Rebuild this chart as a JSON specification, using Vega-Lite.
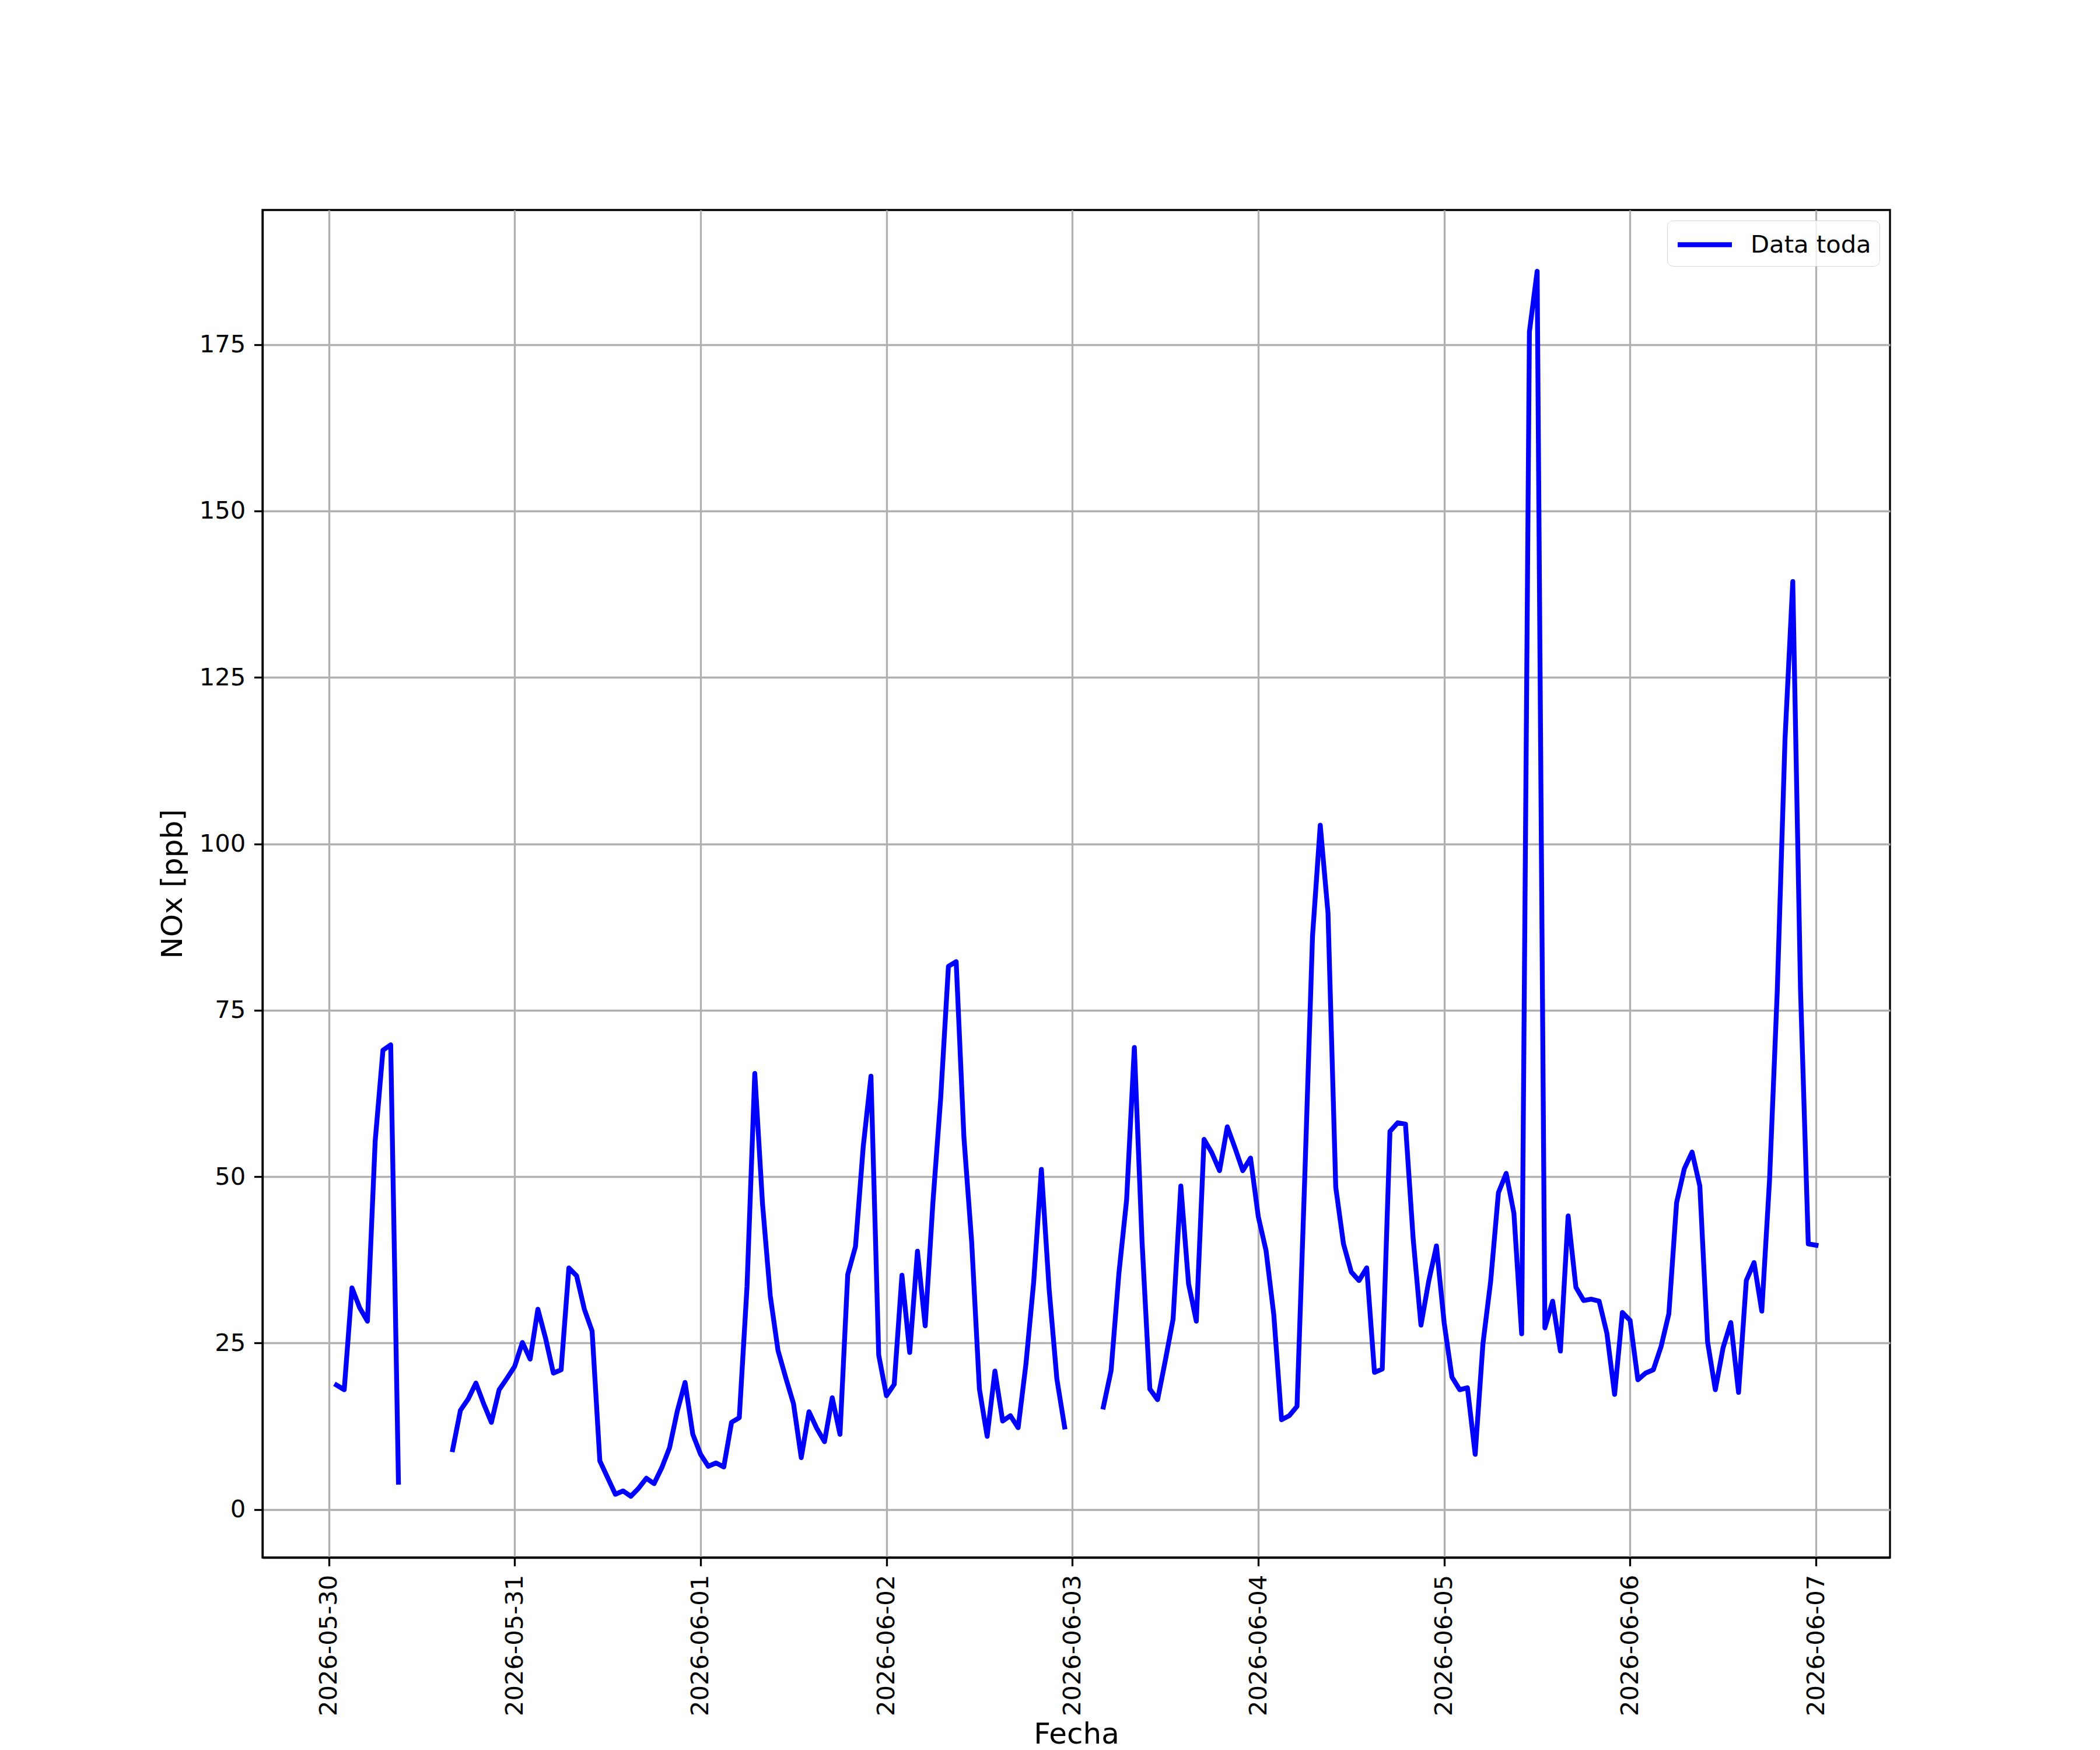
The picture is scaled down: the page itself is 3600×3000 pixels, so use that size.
{
  "$schema": "https://vega.github.io/schema/vega-lite/v6.json",
  "description": "NOx horario, Data toda",
  "autosize": {"type": "none"},
  "padding": {"left": 450, "top": 360, "right": 360, "bottom": 330},
  "width": 2790,
  "height": 2310,
  "background": "white",
  "config": {
    "font": "DejaVu Sans",
    "view": {"stroke": "black", "strokeWidth": 3.3},
    "axis": {
      "labelFont": "DejaVu Sans",
      "labelFontSize": 41.7,
      "labelColor": "black",
      "labelLimit": 0,
      "titleFont": "DejaVu Sans",
      "titleFontSize": 50,
      "titleFontWeight": "normal",
      "titleColor": "black",
      "domainColor": "black",
      "domainWidth": 3.3,
      "tickColor": "black",
      "tickWidth": 3.3,
      "tickSize": 14.6,
      "labelPadding": 14.6,
      "grid": true,
      "gridColor": "#b0b0b0",
      "gridWidth": 3.3
    },
    "legend": {
      "labelFont": "DejaVu Sans",
      "labelFontSize": 41.7,
      "labelColor": "black",
      "labelLimit": 0
    }
  },
  "data": {
    "values": [
      {"Fecha": "2026-05-30T01:00", "NOx": 18.7},
      {"Fecha": "2026-05-30T02:00", "NOx": 18.0},
      {"Fecha": "2026-05-30T03:00", "NOx": 33.3},
      {"Fecha": "2026-05-30T04:00", "NOx": 30.3},
      {"Fecha": "2026-05-30T05:00", "NOx": 28.3},
      {"Fecha": "2026-05-30T06:00", "NOx": 55.4},
      {"Fecha": "2026-05-30T07:00", "NOx": 69.0},
      {"Fecha": "2026-05-30T08:00", "NOx": 69.8},
      {"Fecha": "2026-05-30T09:00", "NOx": 4.1},
      {"Fecha": "2026-05-30T10:00", "NOx": null},
      {"Fecha": "2026-05-30T11:00", "NOx": null},
      {"Fecha": "2026-05-30T12:00", "NOx": null},
      {"Fecha": "2026-05-30T13:00", "NOx": null},
      {"Fecha": "2026-05-30T14:00", "NOx": null},
      {"Fecha": "2026-05-30T15:00", "NOx": null},
      {"Fecha": "2026-05-30T16:00", "NOx": 9.0},
      {"Fecha": "2026-05-30T17:00", "NOx": 14.9},
      {"Fecha": "2026-05-30T18:00", "NOx": 16.6},
      {"Fecha": "2026-05-30T19:00", "NOx": 19.0},
      {"Fecha": "2026-05-30T20:00", "NOx": 15.9},
      {"Fecha": "2026-05-30T21:00", "NOx": 13.1},
      {"Fecha": "2026-05-30T22:00", "NOx": 18.0},
      {"Fecha": "2026-05-30T23:00", "NOx": 19.7},
      {"Fecha": "2026-05-31T00:00", "NOx": 21.5},
      {"Fecha": "2026-05-31T01:00", "NOx": 25.1},
      {"Fecha": "2026-05-31T02:00", "NOx": 22.6},
      {"Fecha": "2026-05-31T03:00", "NOx": 30.1},
      {"Fecha": "2026-05-31T04:00", "NOx": 25.7},
      {"Fecha": "2026-05-31T05:00", "NOx": 20.5},
      {"Fecha": "2026-05-31T06:00", "NOx": 21.0},
      {"Fecha": "2026-05-31T07:00", "NOx": 36.3},
      {"Fecha": "2026-05-31T08:00", "NOx": 35.1},
      {"Fecha": "2026-05-31T09:00", "NOx": 30.1},
      {"Fecha": "2026-05-31T10:00", "NOx": 26.8},
      {"Fecha": "2026-05-31T11:00", "NOx": 7.3},
      {"Fecha": "2026-05-31T12:00", "NOx": 4.8},
      {"Fecha": "2026-05-31T13:00", "NOx": 2.3},
      {"Fecha": "2026-05-31T14:00", "NOx": 2.8},
      {"Fecha": "2026-05-31T15:00", "NOx": 2.0},
      {"Fecha": "2026-05-31T16:00", "NOx": 3.2},
      {"Fecha": "2026-05-31T17:00", "NOx": 4.7},
      {"Fecha": "2026-05-31T18:00", "NOx": 3.9},
      {"Fecha": "2026-05-31T19:00", "NOx": 6.3},
      {"Fecha": "2026-05-31T20:00", "NOx": 9.3},
      {"Fecha": "2026-05-31T21:00", "NOx": 14.8},
      {"Fecha": "2026-05-31T22:00", "NOx": 19.1},
      {"Fecha": "2026-05-31T23:00", "NOx": 11.3},
      {"Fecha": "2026-06-01T00:00", "NOx": 8.3},
      {"Fecha": "2026-06-01T01:00", "NOx": 6.5},
      {"Fecha": "2026-06-01T02:00", "NOx": 7.0},
      {"Fecha": "2026-06-01T03:00", "NOx": 6.4},
      {"Fecha": "2026-06-01T04:00", "NOx": 13.1},
      {"Fecha": "2026-06-01T05:00", "NOx": 13.8},
      {"Fecha": "2026-06-01T06:00", "NOx": 33.5},
      {"Fecha": "2026-06-01T07:00", "NOx": 65.5},
      {"Fecha": "2026-06-01T08:00", "NOx": 45.9},
      {"Fecha": "2026-06-01T09:00", "NOx": 32.1},
      {"Fecha": "2026-06-01T10:00", "NOx": 23.9},
      {"Fecha": "2026-06-01T11:00", "NOx": 19.8},
      {"Fecha": "2026-06-01T12:00", "NOx": 15.9},
      {"Fecha": "2026-06-01T13:00", "NOx": 7.8},
      {"Fecha": "2026-06-01T14:00", "NOx": 14.7},
      {"Fecha": "2026-06-01T15:00", "NOx": 12.2},
      {"Fecha": "2026-06-01T16:00", "NOx": 10.2},
      {"Fecha": "2026-06-01T17:00", "NOx": 16.8},
      {"Fecha": "2026-06-01T18:00", "NOx": 11.3},
      {"Fecha": "2026-06-01T19:00", "NOx": 35.3},
      {"Fecha": "2026-06-01T20:00", "NOx": 39.5},
      {"Fecha": "2026-06-01T21:00", "NOx": 54.5},
      {"Fecha": "2026-06-01T22:00", "NOx": 65.1},
      {"Fecha": "2026-06-01T23:00", "NOx": 23.2},
      {"Fecha": "2026-06-02T00:00", "NOx": 17.1},
      {"Fecha": "2026-06-02T01:00", "NOx": 18.8},
      {"Fecha": "2026-06-02T02:00", "NOx": 35.2},
      {"Fecha": "2026-06-02T03:00", "NOx": 23.6},
      {"Fecha": "2026-06-02T04:00", "NOx": 38.8},
      {"Fecha": "2026-06-02T05:00", "NOx": 27.6},
      {"Fecha": "2026-06-02T06:00", "NOx": 46.2},
      {"Fecha": "2026-06-02T07:00", "NOx": 61.8},
      {"Fecha": "2026-06-02T08:00", "NOx": 81.6},
      {"Fecha": "2026-06-02T09:00", "NOx": 82.3},
      {"Fecha": "2026-06-02T10:00", "NOx": 55.9},
      {"Fecha": "2026-06-02T11:00", "NOx": 40.2},
      {"Fecha": "2026-06-02T12:00", "NOx": 18.1},
      {"Fecha": "2026-06-02T13:00", "NOx": 11.0},
      {"Fecha": "2026-06-02T14:00", "NOx": 20.8},
      {"Fecha": "2026-06-02T15:00", "NOx": 13.3},
      {"Fecha": "2026-06-02T16:00", "NOx": 14.1},
      {"Fecha": "2026-06-02T17:00", "NOx": 12.3},
      {"Fecha": "2026-06-02T18:00", "NOx": 21.8},
      {"Fecha": "2026-06-02T19:00", "NOx": 34.1},
      {"Fecha": "2026-06-02T20:00", "NOx": 51.1},
      {"Fecha": "2026-06-02T21:00", "NOx": 33.1},
      {"Fecha": "2026-06-02T22:00", "NOx": 19.6},
      {"Fecha": "2026-06-02T23:00", "NOx": 12.4},
      {"Fecha": "2026-06-03T00:00", "NOx": null},
      {"Fecha": "2026-06-03T01:00", "NOx": null},
      {"Fecha": "2026-06-03T02:00", "NOx": null},
      {"Fecha": "2026-06-03T03:00", "NOx": null},
      {"Fecha": "2026-06-03T04:00", "NOx": 15.4},
      {"Fecha": "2026-06-03T05:00", "NOx": 20.9},
      {"Fecha": "2026-06-03T06:00", "NOx": 35.4},
      {"Fecha": "2026-06-03T07:00", "NOx": 46.5},
      {"Fecha": "2026-06-03T08:00", "NOx": 69.4},
      {"Fecha": "2026-06-03T09:00", "NOx": 40.1},
      {"Fecha": "2026-06-03T10:00", "NOx": 18.1},
      {"Fecha": "2026-06-03T11:00", "NOx": 16.5},
      {"Fecha": "2026-06-03T12:00", "NOx": 22.4},
      {"Fecha": "2026-06-03T13:00", "NOx": 28.6},
      {"Fecha": "2026-06-03T14:00", "NOx": 48.6},
      {"Fecha": "2026-06-03T15:00", "NOx": 33.9},
      {"Fecha": "2026-06-03T16:00", "NOx": 28.3},
      {"Fecha": "2026-06-03T17:00", "NOx": 55.6},
      {"Fecha": "2026-06-03T18:00", "NOx": 53.6},
      {"Fecha": "2026-06-03T19:00", "NOx": 50.9},
      {"Fecha": "2026-06-03T20:00", "NOx": 57.5},
      {"Fecha": "2026-06-03T21:00", "NOx": 54.3},
      {"Fecha": "2026-06-03T22:00", "NOx": 50.9},
      {"Fecha": "2026-06-03T23:00", "NOx": 52.8},
      {"Fecha": "2026-06-04T00:00", "NOx": 44.0},
      {"Fecha": "2026-06-04T01:00", "NOx": 38.9},
      {"Fecha": "2026-06-04T02:00", "NOx": 29.3},
      {"Fecha": "2026-06-04T03:00", "NOx": 13.5},
      {"Fecha": "2026-06-04T04:00", "NOx": 14.1},
      {"Fecha": "2026-06-04T05:00", "NOx": 15.5},
      {"Fecha": "2026-06-04T06:00", "NOx": 49.9},
      {"Fecha": "2026-06-04T07:00", "NOx": 86.1},
      {"Fecha": "2026-06-04T08:00", "NOx": 102.8},
      {"Fecha": "2026-06-04T09:00", "NOx": 89.6},
      {"Fecha": "2026-06-04T10:00", "NOx": 48.4},
      {"Fecha": "2026-06-04T11:00", "NOx": 39.9},
      {"Fecha": "2026-06-04T12:00", "NOx": 35.7},
      {"Fecha": "2026-06-04T13:00", "NOx": 34.4},
      {"Fecha": "2026-06-04T14:00", "NOx": 36.3},
      {"Fecha": "2026-06-04T15:00", "NOx": 20.6},
      {"Fecha": "2026-06-04T16:00", "NOx": 21.1},
      {"Fecha": "2026-06-04T17:00", "NOx": 56.8},
      {"Fecha": "2026-06-04T18:00", "NOx": 58.1},
      {"Fecha": "2026-06-04T19:00", "NOx": 57.9},
      {"Fecha": "2026-06-04T20:00", "NOx": 40.6},
      {"Fecha": "2026-06-04T21:00", "NOx": 27.7},
      {"Fecha": "2026-06-04T22:00", "NOx": 34.3},
      {"Fecha": "2026-06-04T23:00", "NOx": 39.6},
      {"Fecha": "2026-06-05T00:00", "NOx": 28.0},
      {"Fecha": "2026-06-05T01:00", "NOx": 19.9},
      {"Fecha": "2026-06-05T02:00", "NOx": 18.0},
      {"Fecha": "2026-06-05T03:00", "NOx": 18.3},
      {"Fecha": "2026-06-05T04:00", "NOx": 8.3},
      {"Fecha": "2026-06-05T05:00", "NOx": 24.9},
      {"Fecha": "2026-06-05T06:00", "NOx": 34.3},
      {"Fecha": "2026-06-05T07:00", "NOx": 47.6},
      {"Fecha": "2026-06-05T08:00", "NOx": 50.5},
      {"Fecha": "2026-06-05T09:00", "NOx": 44.5},
      {"Fecha": "2026-06-05T10:00", "NOx": 26.4},
      {"Fecha": "2026-06-05T11:00", "NOx": 176.9},
      {"Fecha": "2026-06-05T12:00", "NOx": 186.0},
      {"Fecha": "2026-06-05T13:00", "NOx": 27.3},
      {"Fecha": "2026-06-05T14:00", "NOx": 31.3},
      {"Fecha": "2026-06-05T15:00", "NOx": 23.8},
      {"Fecha": "2026-06-05T16:00", "NOx": 44.1},
      {"Fecha": "2026-06-05T17:00", "NOx": 33.4},
      {"Fecha": "2026-06-05T18:00", "NOx": 31.4},
      {"Fecha": "2026-06-05T19:00", "NOx": 31.6},
      {"Fecha": "2026-06-05T20:00", "NOx": 31.3},
      {"Fecha": "2026-06-05T21:00", "NOx": 26.5},
      {"Fecha": "2026-06-05T22:00", "NOx": 17.3},
      {"Fecha": "2026-06-05T23:00", "NOx": 29.6},
      {"Fecha": "2026-06-06T00:00", "NOx": 28.4},
      {"Fecha": "2026-06-06T01:00", "NOx": 19.5},
      {"Fecha": "2026-06-06T02:00", "NOx": 20.5},
      {"Fecha": "2026-06-06T03:00", "NOx": 21.0},
      {"Fecha": "2026-06-06T04:00", "NOx": 24.5},
      {"Fecha": "2026-06-06T05:00", "NOx": 29.4},
      {"Fecha": "2026-06-06T06:00", "NOx": 46.1},
      {"Fecha": "2026-06-06T07:00", "NOx": 51.2},
      {"Fecha": "2026-06-06T08:00", "NOx": 53.7},
      {"Fecha": "2026-06-06T09:00", "NOx": 48.6},
      {"Fecha": "2026-06-06T10:00", "NOx": 25.2},
      {"Fecha": "2026-06-06T11:00", "NOx": 18.0},
      {"Fecha": "2026-06-06T12:00", "NOx": 24.3},
      {"Fecha": "2026-06-06T13:00", "NOx": 28.1},
      {"Fecha": "2026-06-06T14:00", "NOx": 17.6},
      {"Fecha": "2026-06-06T15:00", "NOx": 34.4},
      {"Fecha": "2026-06-06T16:00", "NOx": 37.1},
      {"Fecha": "2026-06-06T17:00", "NOx": 29.8},
      {"Fecha": "2026-06-06T18:00", "NOx": 49.5},
      {"Fecha": "2026-06-06T19:00", "NOx": 78.0},
      {"Fecha": "2026-06-06T20:00", "NOx": 115.8},
      {"Fecha": "2026-06-06T21:00", "NOx": 139.4},
      {"Fecha": "2026-06-06T22:00", "NOx": 78.0},
      {"Fecha": "2026-06-06T23:00", "NOx": 39.9},
      {"Fecha": "2026-06-07T00:00", "NOx": 39.7}
    ]
  },
  "mark": {
    "type": "line",
    "strokeWidth": 8.3,
    "strokeJoin": "round",
    "strokeCap": "square"
  },
  "encoding": {
    "x": {
      "field": "Fecha",
      "type": "temporal",
      "title": "Fecha",
      "scale": {
        "domain": [
          {"year": 2026, "month": 5, "date": 29, "hours": 15, "minutes": 27},
          {"year": 2026, "month": 6, "date": 7, "hours": 9, "minutes": 33}
        ],
        "nice": false
      },
      "axis": {
        "format": "%Y-%m-%d",
        "tickCount": {"interval": "day", "step": 1},
        "labelAngle": -90,
        "labelFlush": false,
        "labelOverlap": false,
        "titlePadding": 78
      }
    },
    "y": {
      "field": "NOx",
      "type": "quantitative",
      "title": "NOx [ppb]",
      "scale": {"domain": [-7.2, 195.2], "nice": false, "zero": false},
      "axis": {
        "values": [0, 25, 50, 75, 100, 125, 150, 175],
        "titlePadding": 20
      }
    },
    "color": {
      "datum": "Data toda",
      "type": "nominal",
      "scale": {"range": ["#0000ff"]},
      "legend": {
        "title": null,
        "orient": "top-right",
        "offset": 18,
        "padding": 14,
        "strokeColor": "#d6d6d6",
        "fillColor": "rgba(255,255,255,0.8)",
        "cornerRadius": 10,
        "symbolType": "M-2,0H2",
        "symbolSize": 2162,
        "symbolStrokeWidth": 8.3,
        "symbolOffset": 23,
        "labelOffset": 51
      }
    }
  }
}
